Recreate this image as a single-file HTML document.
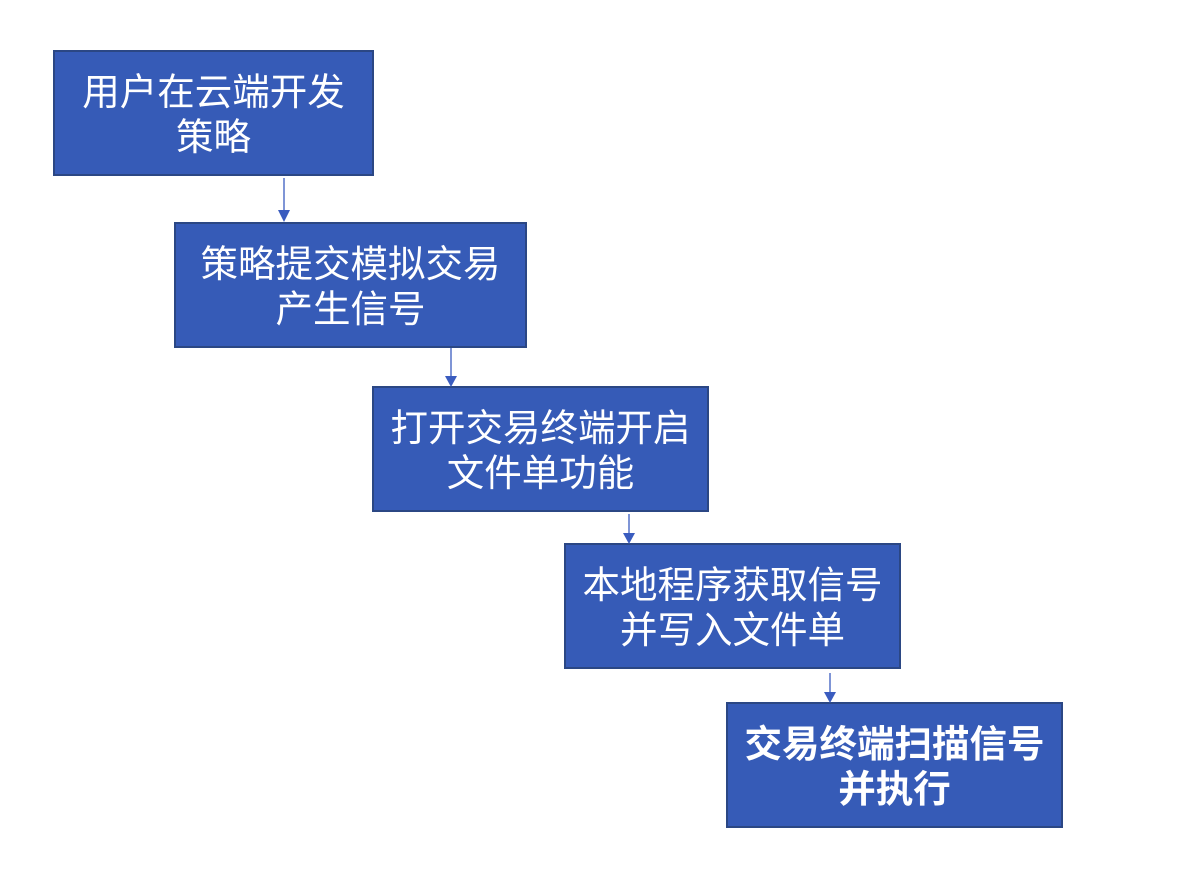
<!DOCTYPE html>
<html><head><meta charset="utf-8"><style>
body{margin:0;width:1182px;height:870px;background:#fff;position:relative;overflow:hidden;font-family:"Liberation Sans","Noto Sans CJK SC",sans-serif}
.b{position:absolute;box-sizing:border-box;background:#365bb7;border:2px solid #2b4784;color:#fff;font-size:37.5px;line-height:45px;display:flex;align-items:center;justify-content:center;text-align:center;padding-top:3px}
svg{position:absolute;left:0;top:0}
</style></head><body>
<div class="b" style="left:53px;top:50px;width:321px;height:126px">用户在云端开发<br>策略</div>
<div class="b" style="left:174px;top:222px;width:353px;height:126px">策略提交模拟交易<br>产生信号</div>
<div class="b" style="left:372px;top:386px;width:337px;height:126px">打开交易终端开启<br>文件单功能</div>
<div class="b" style="left:564px;top:543px;width:337px;height:126px">本地程序获取信号<br>并写入文件单</div>
<div class="b" style="left:726px;top:702px;width:337px;height:126px;font-weight:bold">交易终端扫描信号<br>并执行</div>
<svg width="1182" height="870">
<g stroke="#3a5cbf" stroke-width="1.3" fill="#3a5cbf">
<line x1="284" y1="178" x2="284" y2="212"/><polygon points="278,210 290,210 284,222" stroke="none"/>
<line x1="451" y1="348" x2="451" y2="378"/><polygon points="445,376 457,376 451,387" stroke="none"/>
<line x1="629" y1="514" x2="629" y2="535"/><polygon points="623,533 635,533 629,544" stroke="none"/>
<line x1="830" y1="673" x2="830" y2="694"/><polygon points="824,692 836,692 830,703" stroke="none"/>
</g></svg>
</body></html>
